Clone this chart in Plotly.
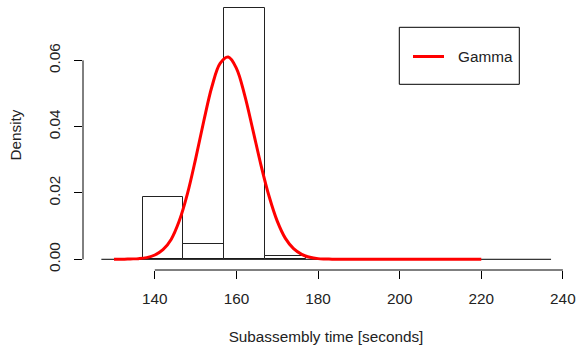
import plotly.graph_objects as go

# Histogram (density scale)
bin_edges = [137, 147, 157, 167, 177]
densities = [0.0188, 0.0045, 0.0757, 0.0009]

# Fitted gamma density curve
curve_x = [130, 132, 134, 136, 138, 140, 142, 144, 146, 148, 150, 152, 154, 156, 158,
           160, 162, 164, 166, 168, 170, 172, 174, 176, 178, 180, 182, 184, 186, 188,
           190, 192, 194, 196, 198, 200, 202, 204, 206, 208, 210, 212, 214, 216, 218, 220]
curve_y = [0.0000, 0.0000, 0.0001, 0.0002, 0.0005, 0.0013, 0.0029, 0.0060, 0.0116, 0.0198,
           0.0303, 0.0417, 0.0521, 0.0591, 0.0610, 0.0576, 0.0496, 0.0392, 0.0285, 0.0190,
           0.0115, 0.0063, 0.0032, 0.0015, 0.0006, 0.0002, 0.0001, 0.0000, 0.0000, 0.0000,
           0.0000, 0.0000, 0.0000, 0.0000, 0.0000, 0.0000, 0.0000, 0.0000, 0.0000, 0.0000,
           0.0000, 0.0000, 0.0000, 0.0000, 0.0000, 0.0000]

# baseline segment
base_x = [126.9, 237.1]
base_y = [0, 0]

x_ticks = [140, 160, 180, 200, 220, 240]
y_ticks = [0.00, 0.02, 0.04, 0.06]
y_tick_text = ["0.00", "0.02", "0.04", "0.06"]

legend_label = "Gamma"
x_title = "Subassembly time [seconds]"
y_title = "Density"

FONT = "Liberation Sans, Arial, sans-serif"
FS = 15.3

centers = [(a + b) / 2 for a, b in zip(bin_edges[:-1], bin_edges[1:])]
widths = [b - a for a, b in zip(bin_edges[:-1], bin_edges[1:])]

fig = go.Figure()
fig.add_trace(go.Bar(x=centers, y=densities, width=widths,
                     marker=dict(color="white", line=dict(color="#222222", width=1)),
                     showlegend=False, hoverinfo="skip"))
fig.add_trace(go.Scatter(x=base_x, y=base_y, mode="lines",
                         line=dict(color="black", width=1), showlegend=False))
fig.add_trace(go.Scatter(x=curve_x, y=curve_y, mode="lines", name=legend_label,
                         line=dict(color="#FF0000", width=3, shape="spline"),
                         showlegend=False))

L, R, T, B = 83, 13, 0, 82
W, H = 582, 352
pw, ph = W - L - R, H - T - B

def px_x(p):
    return (p - L) / pw

def px_y(p):
    return (H - B - p) / ph

shapes = [
    dict(type="line", xref="x", yref="paper", x0=x_ticks[0], x1=x_ticks[-1], y0=0, y1=0,
         line=dict(color="black", width=1)),
    dict(type="line", xref="paper", yref="y", x0=0, x1=0, y0=y_ticks[0], y1=y_ticks[-1],
         line=dict(color="black", width=1)),
    # legend box
    dict(type="rect", xref="paper", yref="paper", x0=px_x(399.3), x1=px_x(519.3),
         y0=px_y(84.3), y1=px_y(27.3), line=dict(color="black", width=1),
         fillcolor="white"),
    dict(type="line", xref="paper", yref="paper", x0=px_x(413), x1=px_x(444),
         y0=px_y(56.5), y1=px_y(56.5), line=dict(color="#FF0000", width=3)),
]

annotations = [
    dict(text=legend_label, xref="paper", yref="paper", x=px_x(456), y=px_y(56.5),
         xanchor="left", yanchor="middle", showarrow=False,
         font=dict(family=FONT, size=FS, color="#222222")),
]

fig.update_layout(
    width=W, height=H,
    margin=dict(l=L, r=R, t=T, b=B),
    paper_bgcolor="white", plot_bgcolor="white",
    font=dict(family=FONT, size=FS, color="#222222"),
    shapes=shapes, annotations=annotations,
    bargap=0, showlegend=False,
    xaxis=dict(range=[122.4, 241.5], tickvals=x_ticks, ticks="outside", ticklen=8,
               tickcolor="black", tickwidth=1, showgrid=False, zeroline=False,
               showline=False, ticklabelstandoff=7,
               title=dict(text=x_title, standoff=24, font=dict(size=FS))),
    yaxis=dict(range=[-0.00323, 0.0782], tickvals=y_ticks, ticktext=y_tick_text,
               ticks="outside", ticklen=8, tickcolor="black", tickwidth=1,
               showgrid=False, zeroline=False, showline=False, tickangle=-90,
               ticklabelstandoff=8,
               title=dict(text=y_title, standoff=20, font=dict(size=FS))),
)

fig.write_html("out.html")
